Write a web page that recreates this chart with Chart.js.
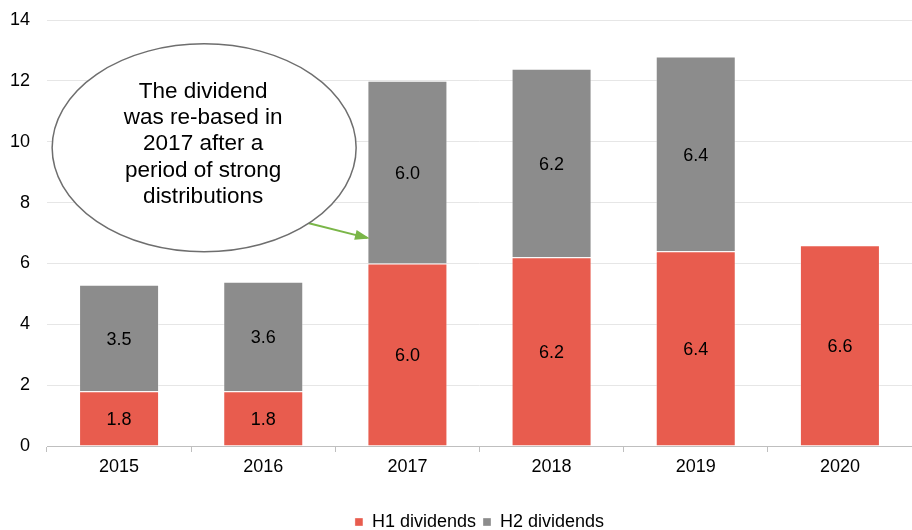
<!DOCTYPE html>
<html>
<head>
<meta charset="utf-8">
<script src="https://cdn.jsdelivr.net/npm/chart.js@4"></script>
<style>
  html, body { margin: 0; padding: 0; background: #fff; }
  #wrap { width: 912px; height: 530px; }
</style>
</head>
<body>
<div id="wrap"><canvas id="divChart" width="912" height="530"></canvas></div>
<script>
// data
const years = ['2015', '2016', '2017', '2018', '2019', '2020'];
const h1Dividends = [1.8, 1.8, 6.0, 6.2, 6.4, 6.6];
const h2Dividends = [3.5, 3.6, 6.0, 6.2, 6.4, null];
const yTicks = [0, 2, 4, 6, 8, 10, 12, 14];
const calloutLines = ['The dividend', 'was re-based in', '2017 after a', 'period of strong', 'distributions'];

const FONT = '"Liberation Sans", Arial, sans-serif';

// numbers inside the bars
const barLabels = {
    id: 'barLabels',
    afterDatasetsDraw(chart) {
        const ctx = chart.ctx;
        ctx.save();
        ctx.font = '18px ' + FONT;
        ctx.fillStyle = '#000';
        ctx.textAlign = 'center';
        ctx.textBaseline = 'middle';
        chart.data.datasets.forEach((ds, i) => {
            chart.getDatasetMeta(i).data.forEach((bar, j) => {
                const v = ds.data[j];
                if (v == null) return;
                const mid = (bar.y + bar.base) / 2;
                ctx.fillText(v.toFixed(1), bar.x, mid + 2);
            });
        });
        ctx.restore();
    }
};

// speech-bubble style callout with green arrow
const callout = {
    id: 'callout',
    afterDraw(chart) {
        const ctx = chart.ctx;
        const x = chart.scales.x, y = chart.scales.y;
        const cx = x.getPixelForValue(0.59);
        const cy = y.getPixelForValue(9.8);
        const rx = 152, ry = 104;

        // arrow
        const ax0 = x.getPixelForValue(1.31), ay0 = y.getPixelForValue(7.33);
        const ax1 = x.getPixelForValue(1.72), ay1 = y.getPixelForValue(6.84);
        ctx.save();
        ctx.strokeStyle = '#7ab648';
        ctx.fillStyle = '#7ab648';
        ctx.lineWidth = 2;
        ctx.beginPath();
        ctx.moveTo(ax0, ay0);
        ctx.lineTo(ax1, ay1);
        ctx.stroke();
        const ang = Math.atan2(ay1 - ay0, ax1 - ax0);
        ctx.beginPath();
        ctx.moveTo(ax1 + 3 * Math.cos(ang), ay1 + 3 * Math.sin(ang));
        ctx.lineTo(ax1 - 12 * Math.cos(ang) - 5 * Math.sin(ang), ay1 - 12 * Math.sin(ang) + 5 * Math.cos(ang));
        ctx.lineTo(ax1 - 12 * Math.cos(ang) + 5 * Math.sin(ang), ay1 - 12 * Math.sin(ang) - 5 * Math.cos(ang));
        ctx.closePath();
        ctx.fill();

        // ellipse
        ctx.beginPath();
        ctx.ellipse(cx, cy, rx, ry, 0, 0, Math.PI * 2);
        ctx.fillStyle = '#fff';
        ctx.fill();
        ctx.strokeStyle = '#6e6e6e';
        ctx.lineWidth = 1.5;
        ctx.stroke();

        ctx.fillStyle = '#000';
        ctx.font = '22.5px ' + FONT;
        ctx.textAlign = 'center';
        ctx.textBaseline = 'middle';
        const lh = 26.2;
        const top = cy - 56;
        calloutLines.forEach((t, i) => ctx.fillText(t, cx - 1, top + i * lh));
        ctx.restore();
    }
};

const ctx = document.getElementById('divChart').getContext('2d');
new Chart(ctx, {
    type: 'bar',
    data: {
        labels: years,
        datasets: [
            {
                label: 'H1 dividends',
                data: h1Dividends,
                backgroundColor: '#e85c4e',
                borderColor: 'rgba(255,255,255,0.35)',
                borderWidth: 1,
                barPercentage: 0.555,
                categoryPercentage: 1
            },
            {
                label: 'H2 dividends',
                data: h2Dividends,
                backgroundColor: '#8c8c8c',
                borderColor: 'rgba(255,255,255,0.35)',
                borderWidth: 1,
                barPercentage: 0.555,
                categoryPercentage: 1
            }
        ]
    },
    options: {
        responsive: false,
        animation: false,
        layout: { padding: { left: 4, right: 0, top: 20, bottom: -11 } },
        scales: {
            x: {
                stacked: true,
                grid: {
                    display: true,
                    drawOnChartArea: false,
                    offset: true,
                    tickLength: 6,
                    color: '#bfbfbf'
                },
                border: { display: true, color: '#bfbfbf' },
                ticks: { color: '#000', font: { family: FONT, size: 18 }, padding: 4 },
                afterFit(scale) { scale.height = 60; }
            },
            y: {
                stacked: true,
                min: 0,
                max: 14,
                afterBuildTicks(axis) { axis.ticks = yTicks.map(v => ({ value: v })); },
                grid: { color: '#e6e6e6', drawTicks: false },
                border: { display: false },
                ticks: { color: '#000', font: { family: FONT, size: 18 }, padding: 17 },
                afterFit(scale) {
                    scale.width = 43;
                    scale.paddingTop = 0;
                    scale.paddingBottom = 0;
                }
            }
        },
        plugins: {
            legend: {
                position: 'bottom',
                fullSize: false,
                labels: {
                    color: '#000',
                    font: { family: FONT, size: 18 },
                    boxWidth: 8,
                    boxHeight: 8,
                    padding: 7
                }
            },
            tooltip: { enabled: false }
        }
    },
    plugins: [barLabels, callout]
});
</script>
</body>
</html>
